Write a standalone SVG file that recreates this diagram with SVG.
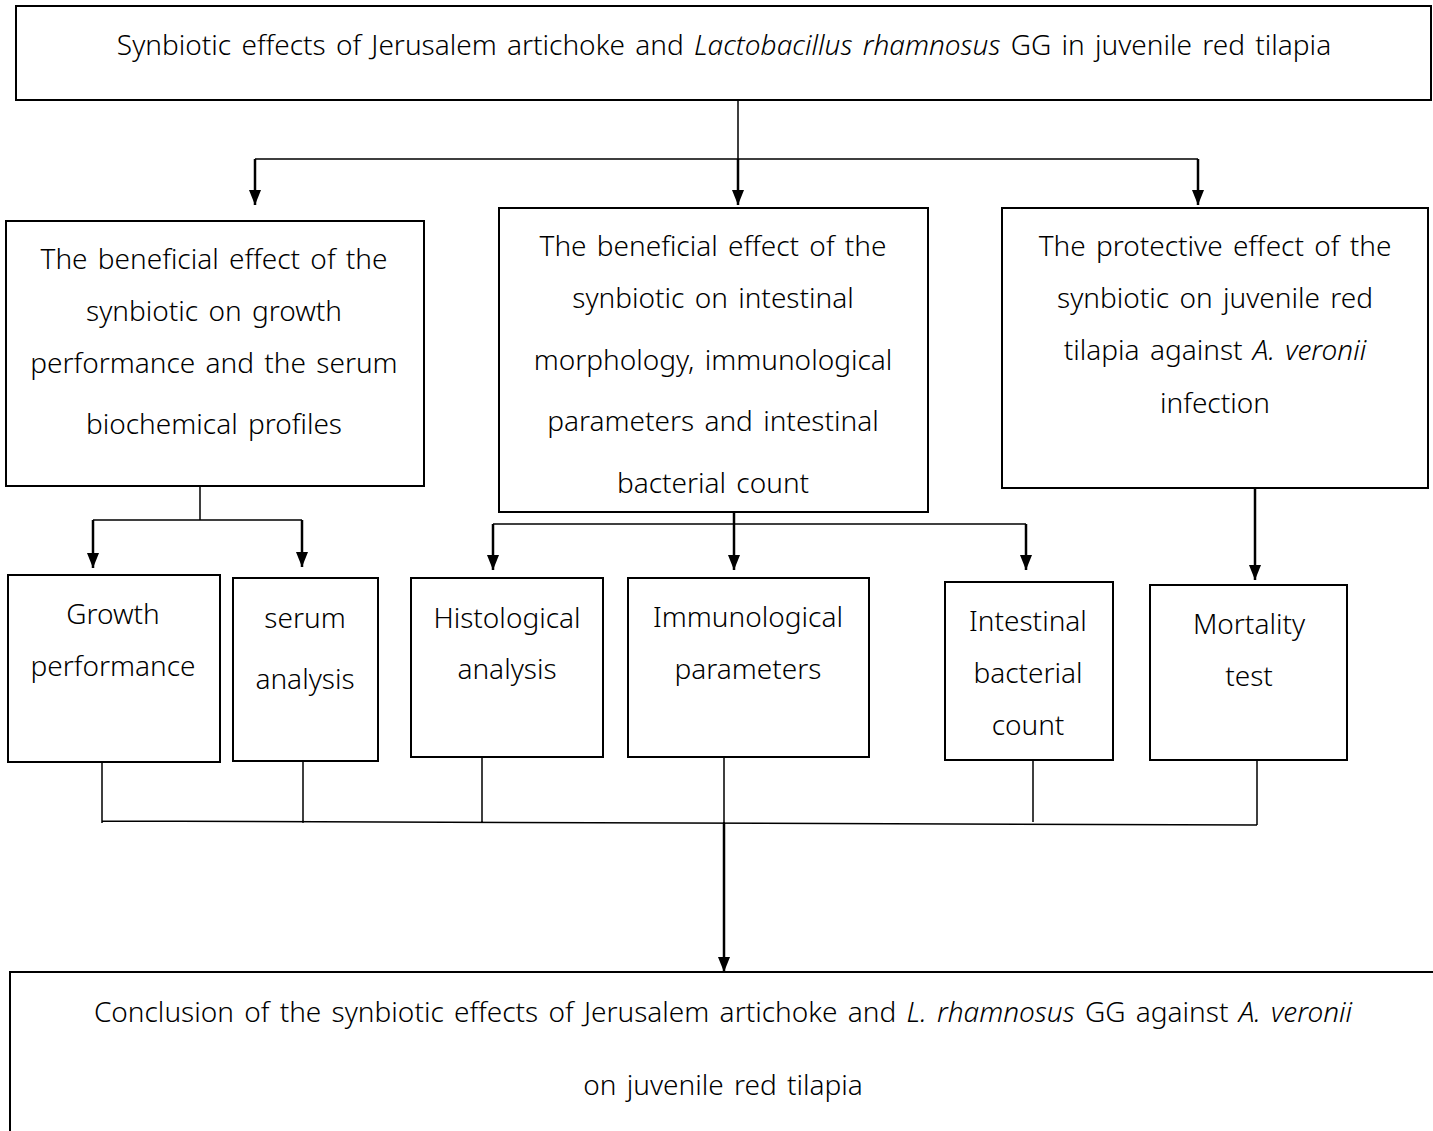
<svg xmlns="http://www.w3.org/2000/svg" width="1433" height="1131" viewBox="0 0 1433 1131">
<defs>
<marker id="ah" markerWidth="15" markerHeight="12" refX="15" refY="6" orient="auto" markerUnits="userSpaceOnUse" viewBox="0 0 15 12">
<path d="M0,0 L15,6 L0,12 Z" fill="#000"/>
</marker>
<style>
.box{fill:#fff;stroke:#000;stroke-width:2}
.t{font-family:"Noto Sans","Open Sans",sans-serif;font-size:28px;font-weight:300;word-spacing:3px;fill:#000;text-anchor:middle}
.ln{fill:none;stroke:#000;stroke-width:1.5}
.ar{fill:none;stroke:#000;stroke-width:2.5}
</style>
</defs>
<g id="connectors">
<path class="ln" d="M738,100 V159 M255,159 H1198"/>
<path class="ar" d="M255,159 V205" marker-end="url(#ah)"/>
<path class="ar" d="M738,159 V205" marker-end="url(#ah)"/>
<path class="ar" d="M1198,159 V205" marker-end="url(#ah)"/>
<path class="ln" d="M200,486 V520 M93,520 H302"/>
<path class="ar" d="M93,520 V568" marker-end="url(#ah)"/>
<path class="ar" d="M302,520 V567" marker-end="url(#ah)"/>
<path class="ln" d="M493,524 H1026"/>
<path class="ar" d="M493,524 V570" marker-end="url(#ah)"/>
<path class="ar" d="M734,508 V570" marker-end="url(#ah)"/>
<path class="ar" d="M1026,524 V570" marker-end="url(#ah)"/>
<path class="ar" d="M1255,488 V580" marker-end="url(#ah)"/>
<path class="ln" d="M102,762 V823 M303,761 V823 M482,757 V822 M724,757 V823 M1033,760 V822 M1257,760 V825 M102,821 L1257,825"/>
<path class="ar" d="M724,823 V972" marker-end="url(#ah)"/>
</g>
<g id="title">
<rect class="box" x="16" y="6" width="1415" height="94"/>
<text class="t" x="724" y="55">Synbiotic effects of Jerusalem artichoke and <tspan font-style="italic">Lactobacillus rhamnosus</tspan> GG in juvenile red tilapia</text>
</g>
<g id="growth-serum">
<rect class="box" x="6" y="221" width="418" height="265"/>
<text class="t" x="214" y="269">The beneficial effect of the</text>
<text class="t" x="214" y="321">synbiotic on growth</text>
<text class="t" x="214" y="373">performance and the serum</text>
<text class="t" x="214" y="434">biochemical profiles</text>
</g>
<g id="intestinal">
<rect class="box" x="499" y="208" width="429" height="304"/>
<text class="t" x="713" y="256">The beneficial effect of the</text>
<text class="t" x="713" y="308">synbiotic on intestinal</text>
<text class="t" x="713" y="370">morphology, immunological</text>
<text class="t" x="713" y="431">parameters and intestinal</text>
<text class="t" x="713" y="493">bacterial count</text>
</g>
<g id="protective">
<rect class="box" x="1002" y="208" width="426" height="280"/>
<text class="t" x="1215" y="256">The protective effect of the</text>
<text class="t" x="1215" y="308">synbiotic on juvenile red</text>
<text class="t" x="1215" y="360">tilapia against <tspan font-style="italic">A. veronii</tspan></text>
<text class="t" x="1215" y="413">infection</text>
</g>
<g id="growth">
<rect class="box" x="8" y="575" width="212" height="187"/>
<text class="t" x="113" y="624">Growth</text>
<text class="t" x="113" y="676">performance</text>
</g>
<g id="serum">
<rect class="box" x="233" y="578" width="145" height="183"/>
<text class="t" x="305" y="628">serum</text>
<text class="t" x="305" y="689">analysis</text>
</g>
<g id="histological">
<rect class="box" x="411" y="578" width="192" height="179"/>
<text class="t" x="507" y="628">Histological</text>
<text class="t" x="507" y="679">analysis</text>
</g>
<g id="immunological">
<rect class="box" x="628" y="578" width="241" height="179"/>
<text class="t" x="748" y="627">Immunological</text>
<text class="t" x="748" y="679">parameters</text>
</g>
<g id="bacterial">
<rect class="box" x="945" y="582" width="168" height="178"/>
<text class="t" x="1028" y="631">Intestinal</text>
<text class="t" x="1028" y="683">bacterial</text>
<text class="t" x="1028" y="735">count</text>
</g>
<g id="mortality">
<rect class="box" x="1150" y="585" width="197" height="175"/>
<text class="t" x="1249" y="634">Mortality</text>
<text class="t" x="1249" y="686">test</text>
</g>
<g id="conclusion">
<rect class="box" x="10" y="972" width="1440" height="180"/>
<text class="t" x="723" y="1022">Conclusion of the synbiotic effects of Jerusalem artichoke and <tspan font-style="italic">L. rhamnosus</tspan> GG against <tspan font-style="italic">A. veronii</tspan></text>
<text class="t" x="723" y="1095">on juvenile red tilapia</text>
</g>
</svg>
